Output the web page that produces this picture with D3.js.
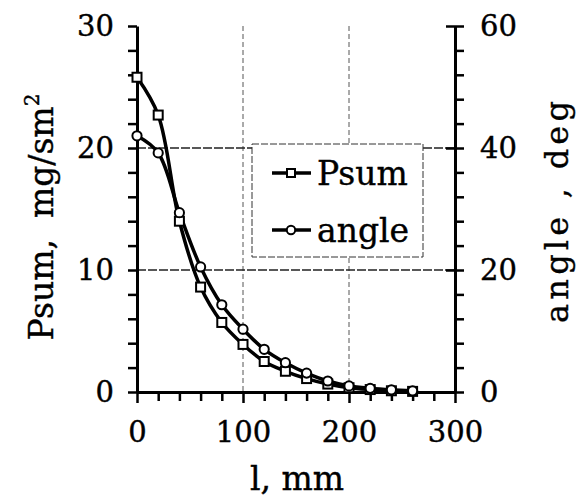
<!DOCTYPE html>
<html><head><meta charset="utf-8">
<script src="https://cdn.jsdelivr.net/npm/d3@7"></script>
<style>body{margin:0;background:#fff}svg{display:block}</style>
</head><body><svg id="c" width="580" height="504"></svg>
<script>
const lengths = [0,20,40,60,80,100,120,140,160,180,200,220,240,260];
const psum = [25.8,22.7,14.0,8.6,5.7,3.9,2.5,1.7,1.1,0.65,0.35,0.2,0.1,0.05];
const angle = [42.0,39.2,29.4,20.5,14.3,10.3,7.0,4.8,3.1,1.8,1.0,0.6,0.35,0.2];
const xTicks = [0,100,200,300];
const yLeftTicks = [0,10,20,30];
const yRightTicks = [0,20,40,60];
const seriesNames = ["Psum","angle"];

const svg = d3.select("#c");
const font = "DejaVu Serif";
const x = d3.scaleLinear().domain([0,300]).range([137,455]);
const yL = d3.scaleLinear().domain([0,30]).range([392,26]);
const yR = d3.scaleLinear().domain([0,60]).range([392,26]);

// grid
const g = svg.append("g");
[100,200].forEach(v=>g.append("line").attr("x1",x(v)).attr("x2",x(v)).attr("y1",yL(30)).attr("y2",yL(0))
  .attr("stroke","#555").attr("stroke-width",1).attr("stroke-dasharray","5,3"));
[10,20].forEach(v=>g.append("line").attr("x1",x(0)).attr("x2",x(300)).attr("y1",yL(v)).attr("y2",yL(v))
  .attr("stroke","#222").attr("stroke-width",1.3).attr("stroke-dasharray","9,2"));

// axes
function styleAxis(sel){
  sel.select(".domain").attr("stroke","#000").attr("stroke-width",3);
  sel.selectAll(".tick line").attr("stroke","#000").attr("stroke-width",2.5);
  sel.selectAll("text").attr("font-family",font).attr("font-size",29).attr("fill","#000")
    .attr("stroke","#000").attr("stroke-width",0.4);
}
const xAx = svg.append("g").attr("transform",`translate(0,${yL(0)})`)
  .call(d3.axisBottom(x).tickValues(d3.range(0,301,20)).tickSize(9).tickSizeOuter(0)
  .tickFormat(d=>xTicks.includes(d)?d:"").tickPadding(20));
styleAxis(xAx);
xAx.selectAll(".tick").filter(d=>xTicks.includes(d)).select("line").attr("y2",11);

const yAx = svg.append("g").attr("transform",`translate(${x(0)},0)`)
  .call(d3.axisLeft(yL).tickValues(d3.range(0,31,2)).tickSize(9).tickSizeOuter(0)
  .tickFormat(d=>yLeftTicks.includes(d)?d:"").tickPadding(14));
styleAxis(yAx);

const rAx = svg.append("g").attr("transform",`translate(${x(300)},0)`)
  .call(d3.axisRight(yR).tickValues(d3.range(0,61,4)).tickSize(9).tickSizeOuter(0)
  .tickFormat(d=>yRightTicks.includes(d)?d:"").tickPadding(16));
styleAxis(rAx);
rAx.selectAll(".tick").filter(d=>yRightTicks.includes(d)).select("line").attr("x1",-9);

// lines
const lineL = d3.line().x((d,i)=>x(lengths[i])).y(d=>yL(d)).curve(d3.curveCatmullRom);
const lineR = d3.line().x((d,i)=>x(lengths[i])).y(d=>yR(d)).curve(d3.curveCatmullRom);
svg.append("path").attr("d",lineL(psum)).attr("fill","none").attr("stroke","#000").attr("stroke-width",3.5);
svg.append("path").attr("d",lineR(angle)).attr("fill","none").attr("stroke","#000").attr("stroke-width",3.5);
svg.selectAll(".sq").data(psum).join("rect").attr("x",(d,i)=>x(lengths[i])-4.5).attr("y",d=>yL(d)-4.5)
  .attr("width",9).attr("height",9).attr("fill","#fff").attr("stroke","#000").attr("stroke-width",2);
svg.selectAll(".ci").data(angle).join("circle").attr("cx",(d,i)=>x(lengths[i])).attr("cy",d=>yR(d))
  .attr("r",4.6).attr("fill","#fff").attr("stroke","#000").attr("stroke-width",2);

// legend
const lg = svg.append("g");
lg.append("rect").attr("x",252).attr("y",144).attr("width",171).attr("height",113)
  .attr("fill","#fff").attr("stroke","#333").attr("stroke-width",1).attr("stroke-dasharray","7,2");
const ly = [173,230];
seriesNames.forEach((n,i)=>{
  lg.append("line").attr("x1",272).attr("x2",311).attr("y1",ly[i]).attr("y2",ly[i]).attr("stroke","#000").attr("stroke-width",3.5);
  if(i===0) lg.append("rect").attr("x",287).attr("y",ly[i]-4).attr("width",8).attr("height",8).attr("fill","#fff").attr("stroke","#000").attr("stroke-width",2);
  else lg.append("circle").attr("cx",291).attr("cy",ly[i]).attr("r",4.2).attr("fill","#fff").attr("stroke","#000").attr("stroke-width",2);
  lg.append("text").attr("x",317).attr("y",ly[i]+12).text(n).attr("font-family",font).attr("font-size",33)
    .attr("fill","#000").attr("stroke","#000").attr("stroke-width",0.4);
});

// axis titles
svg.append("text").attr("transform","translate(53,217) rotate(-90)").attr("text-anchor","middle")
  .attr("font-family",font).attr("font-size",33).attr("fill","#000").attr("stroke","#000").attr("stroke-width",0.4)
  .html('Psum,&#160;&#160;mg/sm<tspan dy="-14" font-size="20">2</tspan>');
svg.append("text").attr("transform","translate(568,212) rotate(-90)").attr("text-anchor","middle")
  .attr("font-family",font).attr("font-size",32).attr("fill","#000").attr("stroke","#000").attr("stroke-width",0.4)
  .attr("textLength",222).attr("lengthAdjust","spacing").text("angle , deg");
svg.append("text").attr("x",297).attr("y",490).attr("text-anchor","middle")
  .attr("font-family",font).attr("font-size",33).attr("fill","#000").attr("stroke","#000").attr("stroke-width",0.4)
  .text("l, mm");
</script></body></html>
